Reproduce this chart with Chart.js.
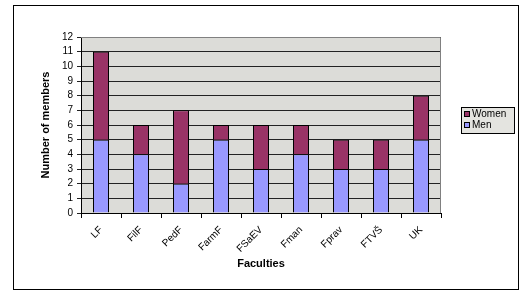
<!DOCTYPE html>
<html>
<head>
<meta charset="utf-8">
<script src="https://cdn.jsdelivr.net/npm/chart.js@4"></script>
<style>
  body { margin: 0; background: #ffffff; }
  #grafico { display: block; }
</style>
</head>
<body>
<canvas id="grafico" width="528" height="291"></canvas>
<script>
// dados do grafico
const faculdades = ['LF', 'FilF', 'PedF', 'FarmF', 'FSaEV', 'Fman', 'Fprav', 'FTVŠ', 'UK'];
const homens = [5, 4, 2, 5, 3, 4, 3, 3, 5];
const mulheres = [6, 2, 5, 1, 3, 2, 2, 2, 3];
const ticksY = [0, 1, 2, 3, 4, 5, 6, 7, 8, 9, 10, 11, 12];

const fonte = "'Liberation Sans', Arial, sans-serif";

// fundo cinza da area do grafico, moldura e legenda
const moldura = {
  id: 'moldura',
  beforeDraw(chart) {
    const c = chart.ctx;
    const a = chart.chartArea;
    c.save();
    c.fillStyle = '#ffffff';
    c.fillRect(0, 0, chart.width, chart.height);
    c.fillStyle = '#dcdcd8';
    c.fillRect(a.left, a.top, a.right - a.left, a.bottom - a.top);
    c.strokeStyle = '#000000';
    c.lineWidth = 1;
    c.strokeRect(13.5, 5.5, 505, 284);
    c.restore();
  },
  afterDraw(chart) {
    const c = chart.ctx;
    const a = chart.chartArea;
    c.save();
    c.strokeStyle = '#808080';
    c.lineWidth = 1;
    c.beginPath();
    c.moveTo(a.left, a.top + 0.5);
    c.lineTo(a.right - 0.5, a.top + 0.5);
    c.lineTo(a.right - 0.5, a.bottom);
    c.stroke();

    // legenda (ordem invertida como no Excel)
    c.fillStyle = '#e4e4e0';
    c.fillRect(461, 107, 53, 26);
    c.strokeStyle = '#000000';
    c.strokeRect(461.5, 107.5, 53, 26);
    const itens = chart.data.datasets.slice().reverse();
    itens.forEach((ds, i) => {
      const y = 114 + i * 11;
      c.fillStyle = ds.backgroundColor;
      c.fillRect(464.5, y - 2.5, 5, 5);
      c.strokeStyle = '#000000';
      c.strokeRect(464.5, y - 2.5, 5, 5);
      c.fillStyle = '#000000';
      c.font = '10px ' + fonte;
      c.textBaseline = 'middle';
      c.fillText(ds.label, 472, y + 0.5);
    });
    c.restore();
  }
};

const ctx = document.getElementById('grafico').getContext('2d');

const grafico = new Chart(ctx, {
  type: 'bar',
  data: {
    labels: faculdades,
    datasets: [{
      label: 'Men',
      data: homens,
      backgroundColor: '#9999ff',
      borderColor: '#000000',
      borderWidth: 1,
      barPercentage: 0.4,
      categoryPercentage: 1
    }, {
      label: 'Women',
      data: mulheres,
      backgroundColor: '#993366',
      borderColor: '#000000',
      borderWidth: 1,
      barPercentage: 0.4,
      categoryPercentage: 1
    }]
  },
  options: {
    responsive: false,
    animation: false,
    layout: {
      padding: { left: 0, right: 87, top: 37, bottom: 0 }
    },
    plugins: {
      legend: { display: false },
      tooltip: { enabled: false }
    },
    scales: {
      x: {
        stacked: true,
        grid: {
          offset: true,
          drawOnChartArea: false,
          drawTicks: true,
          tickLength: 5,
          color: '#000000'
        },
        border: { color: '#000000' },
        ticks: {
          color: '#000000',
          font: { family: fonte, size: 10 },
          minRotation: 45,
          maxRotation: 45,
          padding: 6
        },
        title: {
          display: true,
          text: 'Faculties',
          color: '#000000',
          font: { family: fonte, size: 11, weight: 'bold' },
          padding: { top: 0, bottom: 20 }
        },
        afterFit(scale) {
          scale.height = 78;
        }
      },
      y: {
        stacked: true,
        min: 0,
        max: 12,
        afterBuildTicks(scale) {
          scale.ticks = ticksY.map(v => ({ value: v }));
        },
        grid: {
          color: '#222222',
          tickLength: 4
        },
        border: { color: '#000000' },
        ticks: {
          color: '#000000',
          font: { family: fonte, size: 10 },
          autoSkip: false,
          padding: 4
        },
        title: {
          display: true,
          text: 'Number of members',
          color: '#000000',
          font: { family: fonte, size: 11, weight: 'bold' },
          padding: { top: 39, bottom: 0 }
        },
        afterFit(scale) {
          scale.width = 81;
        }
      }
    }
  },
  plugins: [moldura]
});
</script>
</body>
</html>
